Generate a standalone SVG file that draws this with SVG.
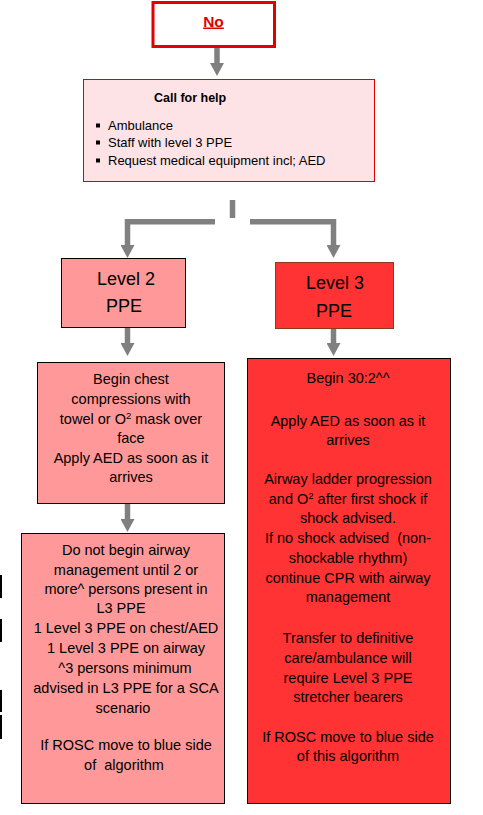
<svg xmlns="http://www.w3.org/2000/svg" width="483" height="815" viewBox="0 0 483 815">
<defs>
<style>
.t{font-family:"Liberation Sans",Arial,sans-serif;fill:#000;}
.c{text-anchor:middle;}
.body{font-size:14.5px;}
.big{font-size:18px;}
.l2{fill:#ff9999;stroke:#000;stroke-width:1;}
.l3{fill:#ff3333;stroke:#000;stroke-width:1;}
.con{fill:none;stroke:#808080;stroke-width:5.5;}
</style>
<marker id="ah" markerUnits="userSpaceOnUse" markerWidth="14" markerHeight="14" refX="0" refY="7" orient="auto" viewBox="0 0 14 14">
<path d="M0,0 L13,7 L0,14 z" fill="#808080"/>
</marker>
</defs>
<rect x="0" y="0" width="483" height="815" fill="#fff"/>

<g id="connectors">
<line class="con" x1="217" y1="48" x2="217" y2="63" marker-end="url(#ah)"/>
<line class="con" x1="232.5" y1="200" x2="232.5" y2="218"/>
<polyline class="con" points="215,221.7 127.5,221.7 127.5,245" marker-end="url(#ah)"/>
<polyline class="con" points="250,221.7 333.5,221.7 333.5,245" marker-end="url(#ah)"/>
<line class="con" x1="127.5" y1="327" x2="127.5" y2="343" marker-end="url(#ah)"/>
<line class="con" x1="333.5" y1="328" x2="333.5" y2="343" marker-end="url(#ah)"/>
<line class="con" x1="127.5" y1="503" x2="127.5" y2="519" marker-end="url(#ah)"/>
</g>

<g id="no">
<rect x="153" y="2.5" width="121.5" height="44" fill="#fff" stroke="#e00000" stroke-width="3"/>
<text class="t c" x="213.5" y="26.5" font-size="15.5" font-weight="bold" style="fill:#e00000" text-decoration="underline">No</text>
</g>

<g id="call-for-help">
<rect x="83.5" y="79.5" width="291" height="102" fill="#fde3e5" stroke="#e00000" stroke-width="1"/>
<text class="t" x="154" y="101.5" font-size="12.5" font-weight="bold">Call for help</text>
<rect x="96" y="123.5" width="4" height="4" fill="#000"/>
<rect x="96" y="140.5" width="4" height="4" fill="#000"/>
<rect x="96" y="158.5" width="4" height="4" fill="#000"/>
<text class="t" x="108" y="130" font-size="13">Ambulance</text>
<text class="t" x="108" y="147" font-size="13">Staff with level 3 PPE</text>
<text class="t" x="108" y="165" font-size="13">Request medical equipment incl; AED</text>
</g>

<g id="level2">
<rect class="l2" x="61.5" y="258.5" width="124" height="69"/>
<text class="t c big" x="126" y="285">Level 2</text>
<text class="t c big" x="124" y="312">PPE</text>
</g>

<g id="level3">
<rect class="l3" x="275.5" y="262.5" width="118" height="66" style="stroke:#8b3a1a"/>
<text class="t c big" x="335" y="289">Level 3</text>
<text class="t c big" x="334" y="317">PPE</text>
</g>

<g id="l2-chest">
<rect class="l2" x="37.5" y="362.5" width="187" height="141"/>
<text class="t c body" x="131" y="384">Begin chest</text>
<text class="t c body" x="131" y="404">compressions with</text>
<text class="t c body" x="131" y="424">towel or O<tspan font-size="9.5" dy="-5">2</tspan><tspan dy="5"> mask over</tspan></text>
<text class="t c body" x="131" y="443">face</text>
<text class="t c body" x="131" y="463">Apply AED as soon as it</text>
<text class="t c body" x="131" y="482">arrives</text>
</g>

<g id="l2-airway">
<rect class="l2" x="21.5" y="533.5" width="203" height="270"/>
<text class="t c body" x="126" y="555">Do not begin airway</text>
<text class="t c body" x="126" y="575">management until 2 or</text>
<text class="t c body" x="126" y="594">more^ persons present in</text>
<text class="t c body" x="121" y="613">L3 PPE</text>
<text class="t c body" x="126" y="633">1 Level 3 PPE on chest/AED</text>
<text class="t c body" x="126" y="653">1 Level 3 PPE on airway</text>
<text class="t c body" x="125" y="673">^3 persons minimum</text>
<text class="t c body" x="126" y="693">advised in L3 PPE for a SCA</text>
<text class="t c body" x="123" y="713">scenario</text>
<text class="t c body" x="126" y="750">If ROSC move to blue side</text>
<text class="t c body" x="124" y="770">of&#160; algorithm</text>
</g>

<g id="l3-cpr">
<rect class="l3" x="247.5" y="358.5" width="203" height="445"/>
<text class="t c body" x="348" y="383">Begin 30:2^^</text>
<text class="t c body" x="348" y="426">Apply AED as soon as it</text>
<text class="t c body" x="348" y="445">arrives</text>
<text class="t c body" x="348" y="484">Airway ladder progression</text>
<text class="t c body" x="348" y="504">and O<tspan font-size="9.5" dy="-5">2</tspan><tspan dy="5"> after first shock if</tspan></text>
<text class="t c body" x="348" y="523">shock advised.</text>
<text class="t c body" x="348" y="543">If no shock advised&#160; (non-</text>
<text class="t c body" x="348" y="563">shockable rhythm)</text>
<text class="t c body" x="348" y="583">continue CPR with airway</text>
<text class="t c body" x="348" y="602">management</text>
<text class="t c body" x="348" y="643">Transfer to definitive</text>
<text class="t c body" x="348" y="663">care/ambulance will</text>
<text class="t c body" x="348" y="683">require Level 3 PPE</text>
<text class="t c body" x="348" y="702">stretcher bearers</text>
<text class="t c body" x="348" y="742">If ROSC move to blue side</text>
<text class="t c body" x="348" y="761">of this algorithm</text>
</g>

<g id="edge-marks" fill="#000">
<rect x="0" y="575" width="2" height="23"/>
<rect x="0" y="619" width="2" height="23"/>
<rect x="0" y="690" width="2" height="22"/>
<rect x="0" y="715" width="2" height="24"/>
</g>
</svg>
